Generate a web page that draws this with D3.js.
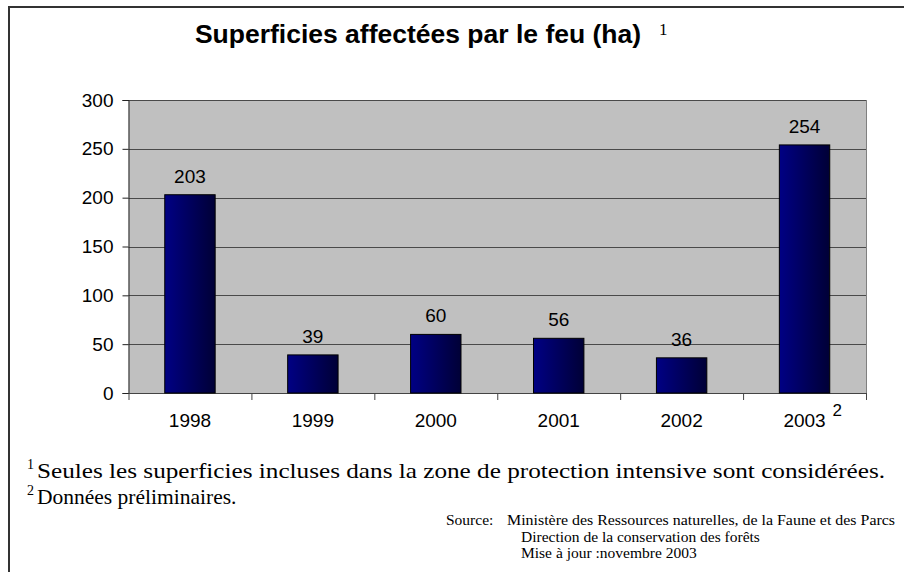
<!DOCTYPE html>
<html><head><meta charset="utf-8">
<script src="https://cdn.jsdelivr.net/npm/d3@7"></script>
<style>body{margin:0;background:#fff}svg{display:block}</style>
</head><body>
<script>
const years = ["1998","1999","2000","2001","2002","2003"];
const values = [203, 39, 60, 56, 36, 254];
const yTicks = [0, 50, 100, 150, 200, 250, 300];
const title = "Superficies affectées par le feu (ha)";
const notes = ["Seules les superficies incluses dans la zone de protection intensive sont considérées.", "Données préliminaires."];
const sourceLines = ["Ministère des Ressources naturelles, de la Faune et des Parcs", "Direction de la conservation des forêts", "Mise à jour :novembre 2003"];

const W = 904, H = 572;
const svg = d3.select("body").append("svg").attr("width", W).attr("height", H);
const sans = "'Liberation Sans', Arial, sans-serif";
const serif = "'Liberation Serif', 'Times New Roman', serif";

// frame
svg.append("path").attr("d", `M9,${H} L9,7 L${W},7`).attr("fill","none").attr("stroke","#333").attr("stroke-width",2);

const m = {l:128.5, r:866, t:100, b:393};
const x = d3.scaleBand().domain(years).range([m.l, m.r]).paddingInner(0.59).paddingOuter(0.295);
const xb = d3.scaleBand().domain(years).range([m.l, m.r]);
const y = d3.scaleLinear().domain([0,300]).range([m.b, m.t]);

const defs = svg.append("defs");
const g = defs.append("linearGradient").attr("id","bg").attr("x1","0").attr("x2","1").attr("y1","0").attr("y2","0");
g.append("stop").attr("offset","0").attr("stop-color","#000084");
g.append("stop").attr("offset","1").attr("stop-color","#000036");

svg.append("rect").attr("x",m.l).attr("y",m.t).attr("width",m.r-m.l).attr("height",m.b-m.t).attr("fill","#c0c0c0");
// gridlines
svg.append("g").selectAll("line").data(yTicks.filter(d=>d>0)).join("line")
  .attr("x1",m.l).attr("x2",m.r).attr("y1",d=>Math.round(y(d))+0.5).attr("y2",d=>Math.round(y(d))+0.5)
  .attr("stroke","#4a4a4a").attr("stroke-width",1);
// right border
svg.append("line").attr("x1",m.r+0.5).attr("x2",m.r+0.5).attr("y1",m.t).attr("y2",m.b).attr("stroke","#808080");

// y axis
const ya = svg.append("g").attr("transform",`translate(${m.l},0)`)
  .call(d3.axisLeft(y).tickValues(yTicks).tickSize(6).tickPadding(9));
ya.select(".domain").attr("stroke","#222");
ya.selectAll(".tick line").attr("stroke","#222");
ya.selectAll("text").attr("font-family",sans).attr("font-size",19).attr("fill","#000");

// x axis
const xa = svg.append("g").attr("transform",`translate(0,${m.b})`)
  .call(d3.axisBottom(xb).tickSize(0).tickPadding(21));
xa.select(".domain").attr("stroke","#444");
xa.selectAll("text").attr("font-family",sans).attr("font-size",19).attr("fill","#000");
// category separators
svg.append("g").selectAll("line").data(years.concat(["end"])).join("line")
  .attr("x1",(d,i)=> i<years.length ? xb(d)+0.5 : m.r+0.5)
  .attr("x2",(d,i)=> i<years.length ? xb(d)+0.5 : m.r+0.5)
  .attr("y1",m.b).attr("y2",m.b+7).attr("stroke","#444");

// bars
svg.append("g").selectAll("rect").data(values).join("rect")
  .attr("x",(d,i)=>x(years[i])).attr("width",x.bandwidth())
  .attr("y",d=>y(d)).attr("height",d=>m.b-y(d))
  .attr("fill","url(#bg)").attr("stroke","#000").attr("stroke-width",1);

svg.append("g").selectAll("text").data(values).join("text")
  .attr("x",(d,i)=>x(years[i])+x.bandwidth()/2).attr("y",d=>y(d)-12)
  .attr("text-anchor","middle").attr("font-family",sans).attr("font-size",19).text(d=>d);

// superscript 2 on 2003
svg.append("text").attr("x",xb("2003")+xb.bandwidth()/2+28).attr("y",m.b+23)
  .attr("font-family",sans).attr("font-size",17).text("2");

// title
svg.append("text").attr("x",418).attr("y",43).attr("text-anchor","middle")
  .attr("font-family",sans).attr("font-weight","bold").attr("font-size",26.5).text(title);
svg.append("text").attr("x",659).attr("y",35).attr("font-family",serif).attr("font-size",17).text("1");

// footnotes
notes.forEach((n,i)=>{
  const yy = 478 + i*26;
  svg.append("text").attr("x",27).attr("y",yy-9).attr("font-family",serif).attr("font-size",14).text(String(i+1));
  const tt = svg.append("text").attr("x",37).attr("y",yy).attr("font-family",serif).attr("font-size",21.5).text(n);
  if (i===0) tt.attr("textLength",848).attr("lengthAdjust","spacingAndGlyphs");
});
svg.append("text").attr("x",446).attr("y",525).attr("font-family",serif).attr("font-size",15.5).text("Source:");
sourceLines.forEach((s,i)=>{
  const tt = svg.append("text").attr("x", i===0?507:521).attr("y",525+i*16.5).attr("font-family",serif).attr("font-size",15.5).text(s);
  if (i===0) tt.attr("textLength",388).attr("lengthAdjust","spacingAndGlyphs");
});
</script>
</body></html>
